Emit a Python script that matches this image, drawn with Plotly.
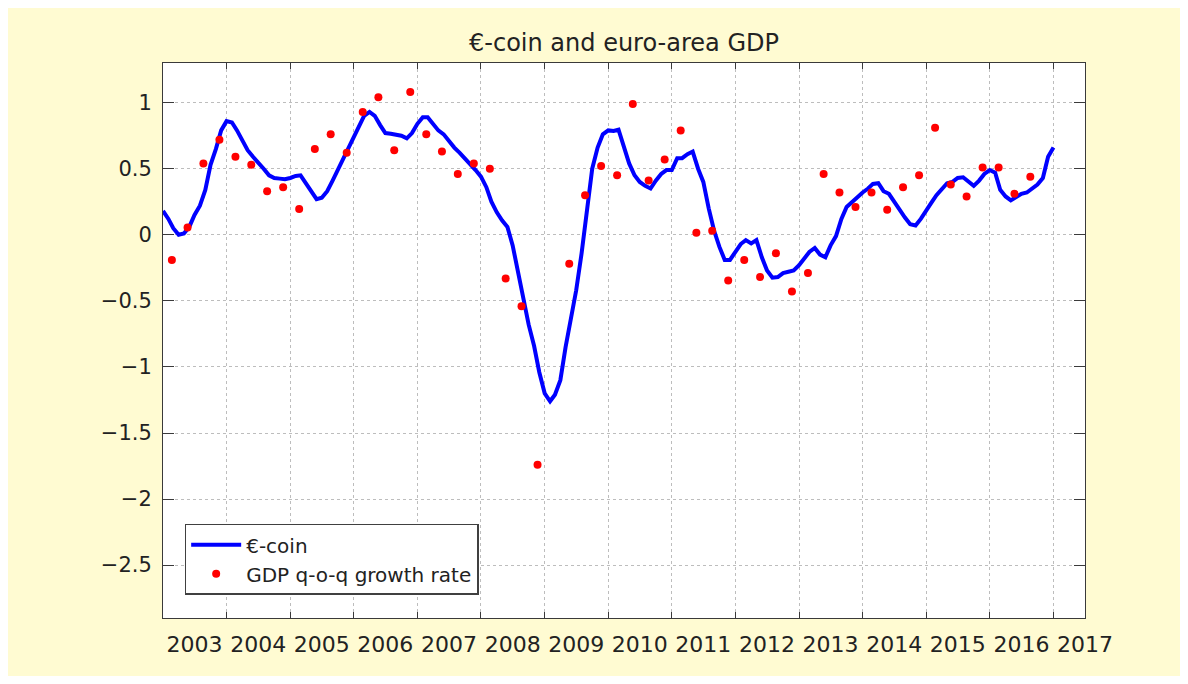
import plotly.graph_objects as go
import pandas as pd

chart_title = "€-coin and euro-area GDP"
coin_name = "€-coin"
gdp_name = "GDP q-o-q growth rate"

# €-coin, monthly, first month Jan 2003
coin_start = "2003-01-01"
coin_values = [
    0.18, 0.12, 0.05, 0.00, 0.01, 0.06, 0.15, 0.22, 0.34, 0.53, 0.65, 0.79,   # 2003
    0.86, 0.85, 0.79, 0.71, 0.64, 0.59, 0.54, 0.50, 0.45, 0.43, 0.425, 0.42,  # 2004
    0.43, 0.445, 0.45, 0.39, 0.33, 0.27, 0.28, 0.33, 0.41, 0.49, 0.58, 0.66,  # 2005
    0.75, 0.83, 0.90, 0.93, 0.90, 0.83, 0.77, 0.765, 0.76, 0.75, 0.73, 0.77,  # 2006
    0.84, 0.89, 0.89, 0.84, 0.79, 0.76, 0.71, 0.66, 0.62, 0.58, 0.53, 0.49,   # 2007
    0.44, 0.36, 0.25, 0.17, 0.11, 0.06, -0.08, -0.28, -0.48, -0.68, -0.84, -1.04,  # 2008
    -1.20, -1.26, -1.21, -1.10, -0.85, -0.62, -0.42, -0.14, 0.19, 0.50, 0.66, 0.76,  # 2009
    0.79, 0.785, 0.795, 0.67, 0.54, 0.45, 0.40, 0.37, 0.35, 0.41, 0.46, 0.49,  # 2010
    0.49, 0.58, 0.58, 0.61, 0.63, 0.50, 0.40, 0.20, 0.03, -0.09, -0.19, -0.19,  # 2011
    -0.13, -0.07, -0.04, -0.065, -0.04, -0.17, -0.27, -0.325, -0.32, -0.29, -0.28, -0.27,  # 2012
    -0.23, -0.18, -0.13, -0.10, -0.15, -0.17, -0.08, -0.01, 0.12, 0.21, 0.25, 0.29,  # 2013
    0.32, 0.35, 0.385, 0.39, 0.33, 0.31, 0.25, 0.19, 0.13, 0.08, 0.07, 0.12,  # 2014
    0.19, 0.245, 0.30, 0.35, 0.39, 0.40, 0.43, 0.435, 0.40, 0.37, 0.41, 0.46,  # 2015
    0.49, 0.47, 0.34, 0.29, 0.26, 0.29, 0.31, 0.32, 0.35, 0.38, 0.43, 0.59,  # 2016
    0.66,  # Jan 2017
]

# GDP quarter-on-quarter growth, first quarter 2003Q1 (2009Q1 lies below the visible range)
gdp_start_quarter = "2003Q1"
gdp_values = [
    -0.19, 0.055, 0.54, 0.72,    # 2003
    0.59, 0.53, 0.33, 0.36,      # 2004
    0.195, 0.65, 0.76, 0.62,     # 2005
    0.93, 1.04, 0.64, 1.08,      # 2006
    0.76, 0.63, 0.46, 0.54,      # 2007
    0.50, -0.33, -0.54, -1.74,   # 2008
    None, -0.22, 0.30, 0.52,     # 2009
    0.45, 0.99, 0.41, 0.57,      # 2010
    0.79, 0.015, 0.03, -0.345,   # 2011
    -0.19, -0.32, -0.14, -0.43,  # 2012
    -0.29, 0.46, 0.32, 0.21,     # 2013
    0.32, 0.19, 0.36, 0.45,      # 2014
    0.81, 0.38, 0.29, 0.51,      # 2015
    0.51, 0.31, 0.44,            # 2016
]

year_labels = [str(y) for y in range(2003, 2018)]
tick_years = list(range(2004, 2018))
y_tick_values = [1, 0.5, 0, -0.5, -1, -1.5, -2, -2.5]
y_tick_text = ["1", "0.5", "0", "\u22120.5", "\u22121", "\u22121.5", "\u22122", "\u22122.5"]

coin_dates = pd.date_range(coin_start, periods=len(coin_values), freq="MS")
gdp_dates = (pd.period_range(gdp_start_quarter, periods=len(gdp_values), freq="Q")
             .start_time + pd.Timedelta(days=51))

FONT = "DejaVu Sans"
x_range = ["2003-01-01", "2017-07-01"]
W, H = 1172, 668

fig = go.Figure()
fig.add_trace(go.Scatter(
    x=coin_dates, y=coin_values, mode="lines", name=coin_name,
    line=dict(color="#0000ff", width=4),
))
fig.add_trace(go.Scatter(
    x=gdp_dates, y=gdp_values, mode="markers", name=gdp_name,
    marker=dict(color="#ff0000", size=8),
))
# carrier for the year-label axis
fig.add_trace(go.Scatter(
    x=[coin_dates[0]], y=[None], xaxis="x2", yaxis="y",
    showlegend=False, hoverinfo="skip", mode="lines",
))

axis_line = "#3a3a3a"
grid_col = "#bdbdbd"

fig.update_layout(
    width=W, height=H,
    paper_bgcolor="#fffbd2",
    plot_bgcolor="#ffffff",
    margin=dict(l=155, r=95, t=55, b=58),
    font=dict(family=FONT, color="#222222"),
    title=dict(text=chart_title, x=0.5, xref="paper", y=1 - 35 / H, yref="container",
               xanchor="center", yanchor="middle", font=dict(size=24, family=FONT, color="#222222")),
    xaxis=dict(
        type="date", range=x_range,
        tickvals=[f"{y}-01-01" for y in tick_years],
        showticklabels=False,
        ticks="inside", ticklen=6, tickwidth=1, tickcolor=axis_line,
        showline=True, linecolor=axis_line, linewidth=1, mirror="ticks",
        showgrid=True, gridcolor=grid_col, griddash="dot", gridwidth=1,
        zeroline=False,
    ),
    xaxis2=dict(
        type="date", range=x_range, overlaying="x", matches="x", anchor="y", side="bottom",
        tickvals=[f"{y}-07-01" for y in range(2003, 2018)],
        ticktext=year_labels,
        ticks="", showline=False, showgrid=False, zeroline=False,
        tickfont=dict(size=22, family=FONT, color="#222222"),
        ticklabelstandoff=11,
    ),
    yaxis=dict(
        range=[-2.9, 1.3],
        tickvals=y_tick_values, ticktext=y_tick_text,
        ticks="inside", ticklen=11, tickwidth=1, tickcolor=axis_line,
        showline=True, linecolor=axis_line, linewidth=1, mirror="ticks",
        showgrid=True, gridcolor=grid_col, griddash="dot", gridwidth=1,
        zeroline=False,
        tickfont=dict(size=21, family=FONT, color="#222222"),
        ticklabelstandoff=6,
    ),
    legend=dict(
        x=0.0235, y=0.042, xanchor="left", yanchor="bottom",
        bgcolor="#ffffff", bordercolor="#404040", borderwidth=1.5,
        font=dict(size=20, family=FONT, color="#222222"),
        itemwidth=50,
    ),
    showlegend=True,
)

fig.write_html("out.html")
